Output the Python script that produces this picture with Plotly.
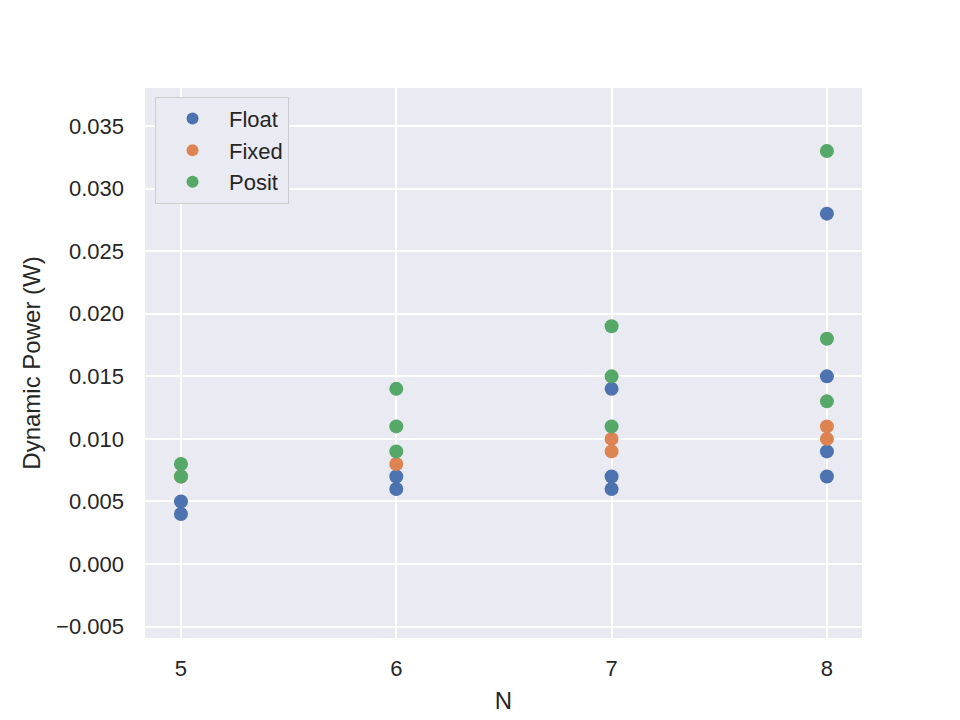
import plotly.graph_objects as go

float_n = [5, 5, 6, 6, 7, 7, 7, 8, 8, 8, 8]
float_p = [0.005, 0.004, 0.007, 0.006, 0.014, 0.007, 0.006, 0.028, 0.015, 0.009, 0.007]
fixed_n = [5, 6, 7, 7, 8, 8]
fixed_p = [0.007, 0.008, 0.010, 0.009, 0.011, 0.010]
posit_n = [5, 5, 6, 6, 6, 7, 7, 7, 8, 8, 8]
posit_p = [0.008, 0.007, 0.014, 0.011, 0.009, 0.019, 0.015, 0.011, 0.033, 0.018, 0.013]

y_ticks = [-0.005, 0.0, 0.005, 0.010, 0.015, 0.020, 0.025, 0.030, 0.035]
x_ticks = [5, 6, 7, 8]

colors = {"Float": "#4c72b0", "Fixed": "#dd8452", "Posit": "#55a868"}

fig = go.Figure()
for name, xs, ys in [("Float", float_n, float_p), ("Fixed", fixed_n, fixed_p), ("Posit", posit_n, posit_p)]:
    fig.add_trace(go.Scatter(x=xs, y=ys, mode="markers", name=name, legendgroup=name,
                             marker=dict(color=colors[name], size=14, line=dict(width=0))))

font_color = "#262626"
fig.update_layout(
    width=960, height=720,
    margin=dict(l=145, r=98, t=88, b=82),
    paper_bgcolor="white",
    plot_bgcolor="#eaeaf2",
    font=dict(family="Arial, Liberation Sans, sans-serif", size=22, color=font_color),
    showlegend=True,
    legend=dict(x=0.014, y=0.984, xanchor="left", yanchor="top",
                bgcolor="#eaeaf2", bordercolor="#cccccc", borderwidth=1,
                font=dict(size=22), itemsizing="constant", itemwidth=63,
                tracegroupgap=0),
    xaxis=dict(range=[4.833, 8.163], tickvals=x_ticks, ticktext=[str(v) for v in x_ticks],
               showgrid=True, gridcolor="white", gridwidth=1.5, zeroline=False,
               showline=False, ticks="", ticklabelstandoff=15, automargin=False,
               title=dict(text="N", font=dict(size=24), standoff=12)),
    yaxis=dict(range=[-0.00591, 0.03804], tickvals=y_ticks,
               ticktext=[("\u2212" if v < 0 else "") + f"{abs(v):.3f}" for v in y_ticks],
               showgrid=True, gridcolor="white", gridwidth=1.5, zeroline=False,
               showline=False, ticks="", ticklabelstandoff=20, automargin=False,
               title=dict(text="Dynamic Power (W)", font=dict(size=24), standoff=8)),
)

fig.write_html("out.html")
